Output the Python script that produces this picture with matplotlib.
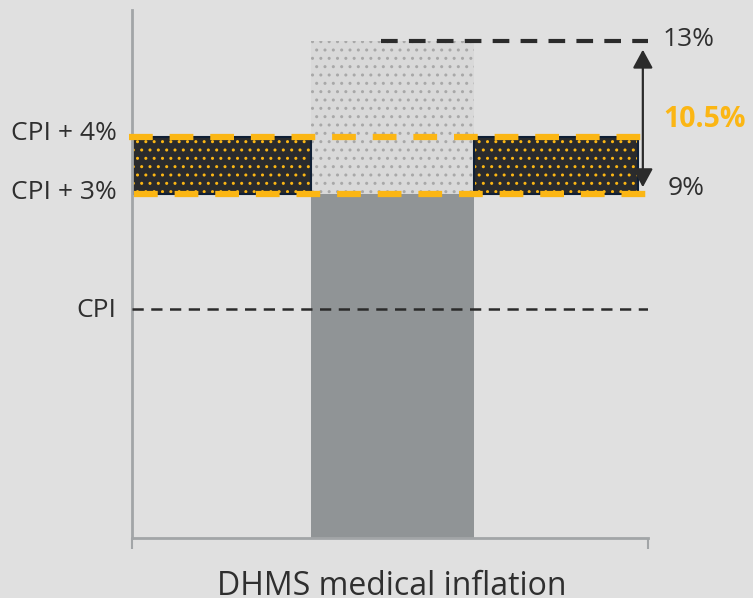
import matplotlib.pyplot as plt
from matplotlib.patches import Rectangle

plt.rcParams['font.family'] = ['Open Sans', 'DejaVu Sans']
plt.rcParams['hatch.linewidth'] = 1.0

# values in percent
category = "DHMS medical inflation"
medical_low = 9.0       # bar height
medical_high = 13.0     # top of the range box
cpi = 6.0
cpi_plus_3 = 9.0
cpi_plus_4 = 10.5
band_labels = ["CPI + 4%", "CPI + 3%", "CPI"]
range_labels = ["13%", "10.5%", "9%"]

BG = "#e0e0e0"
TEXT = "#2f2f2f"
YELLOW = "#fbb614"
DARK = "#2a2b2d"
BAR = "#909496"

fig = plt.figure(figsize=(7.53, 5.98), dpi=100, facecolor=BG)
ax = fig.add_axes([132 / 753, 60 / 598, 516 / 753, 528 / 598])
ax.set_facecolor(BG)
ax.set_xlim(0, 3)
ax.set_ylim(0, 13.82)

bar_x = 1.515
bar_w = 0.95
left_edge = bar_x - bar_w / 2
right_edge = bar_x + bar_w / 2
band_end = 2.94

# light dotted range box above the bar
ax.bar(bar_x, medical_high - medical_low, bottom=medical_low, width=bar_w,
       color="#d9d9d9", edgecolor="#a8a8a8", hatch="..", linewidth=0, zorder=1)
ax.bar(bar_x, medical_low, width=bar_w, color=BAR, linewidth=0, zorder=2)

# CPI+3% .. CPI+4% target band on both sides of the bar
for x0, x1 in [(0.0, left_edge), (right_edge, band_end)]:
    ax.add_patch(Rectangle((x0, cpi_plus_3), x1 - x0, cpi_plus_4 - cpi_plus_3,
                           facecolor=DARK, edgecolor=YELLOW, hatch="..",
                           linewidth=0, zorder=2))
    ax.add_patch(Rectangle((x0, cpi_plus_3), x1 - x0, cpi_plus_4 - cpi_plus_3,
                           facecolor="none", edgecolor="#0f1f35",
                           linewidth=1.5, zorder=2))

# reference lines
ax.plot([-0.02, 3.01], [cpi_plus_4] * 2, color=YELLOW, lw=4.5,
        dashes=(3.8, 2.7), clip_on=False, zorder=4)
ax.plot([0.01, 3.0], [cpi_plus_3] * 2, color=YELLOW, lw=4.5,
        dashes=(3.8, 2.7), clip_on=False, zorder=4)
ax.plot([0, 3.0], [cpi] * 2, color="#2b2b2b", lw=1.8,
        dashes=(4.5, 3.0), zorder=4)
ax.plot([1.45, 3.0], [medical_high] * 2, color="#2b2b2b", lw=3,
        dashes=(4.0, 2.7), zorder=4)

ax.annotate("", xy=(2.97, medical_high), xytext=(2.97, medical_low),
            arrowprops=dict(arrowstyle="<|-|>,head_length=0.7,head_width=0.38",
                            mutation_scale=16, color="#2b2b2b", lw=1.6,
                            shrinkA=5, shrinkB=6),
            zorder=5)

# labels
ytrans = ax.get_yaxis_transform()
for lab, yv in zip(band_labels, [cpi_plus_4 + 0.1, cpi_plus_3 + 0.05, cpi - 0.05]):
    ax.text(-0.03, yv, lab, transform=ytrans, ha="right", va="center",
            fontsize=19, color=TEXT)
ax.text(1.029, medical_high + 0.05, range_labels[0], transform=ytrans, ha="left",
        va="center", fontsize=19, color=TEXT)
ax.text(1.029, 10.95, range_labels[1], transform=ytrans, ha="left",
        va="center", fontsize=20.5, fontweight="bold", color=YELLOW)
ax.text(1.039, 9.15, range_labels[2], transform=ytrans, ha="left",
        va="center", fontsize=19, color=TEXT)

fig.text(392 / 753, 1 - 595 / 598, category, ha="center", va="baseline",
         fontsize=23, color=TEXT)

for side in ["top", "right"]:
    ax.spines[side].set_visible(False)
for side in ["left", "bottom"]:
    ax.spines[side].set_color("#a2a5a7")
    ax.spines[side].set_linewidth(2)
ax.set_yticks([])
ax.set_xticks([0, 3])
ax.set_xticklabels([])
ax.tick_params(axis="x", direction="out", length=8, width=1.5, color="#a2a5a7")

fig.savefig("out.png", dpi=100, facecolor=BG)
